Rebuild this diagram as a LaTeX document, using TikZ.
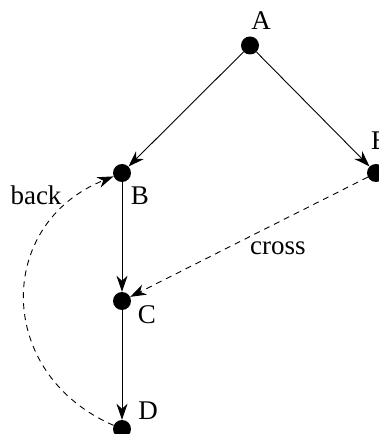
\documentclass[tikz,border=0pt]{standalone}
\usepackage{fontspec}
\setmainfont{Liberation Serif}
\usetikzlibrary{arrows.meta}
\begin{document}
\begin{tikzpicture}[x=1pt,y=1pt,
  vert/.style={circle,fill=black,inner sep=0pt,minimum size=18pt},
  lab/.style={inner sep=0pt,font=\fontsize{27}{31}\selectfont},
  edge/.style={line width=0.9pt,-{Stealth[length=16pt,width=11pt,inset=5pt]}},
  dedge/.style={edge,dash pattern=on 6pt off 5pt}]
\useasboundingbox (0,0) rectangle (378,434);
\node[vert] (A) at (250,388.5) {};
\node[vert] (B) at (122,261) {};
\node[vert] (E) at (376,261) {};
\node[vert] (C) at (122,133) {};
\node[vert] (D) at (122,5) {};
\node[lab,anchor=base] (lA) at (261,404) {A};
\node[lab,anchor=base] (lB) at (140,229) {B};
\node[lab,anchor=base west] (lE) at (371,284) {E};
\node[lab,anchor=base] (lC) at (147,110) {C};
\node[lab,anchor=base] (lD) at (148,14) {D};
\node[lab,anchor=base] (lback) at (36,229) {back};
\node[lab,anchor=base west] (lcross) at (250,179) {cross};
\draw[edge] (A) -- (B);
\draw[edge] (A) -- (E);
\draw[edge] (B) -- (C);
\draw[edge] (C) -- (D);
\draw[dedge] (E) -- (C);
\draw[dedge] (D) .. controls (-5,60) and (-5,210) .. (B);
\end{tikzpicture}
\end{document}
